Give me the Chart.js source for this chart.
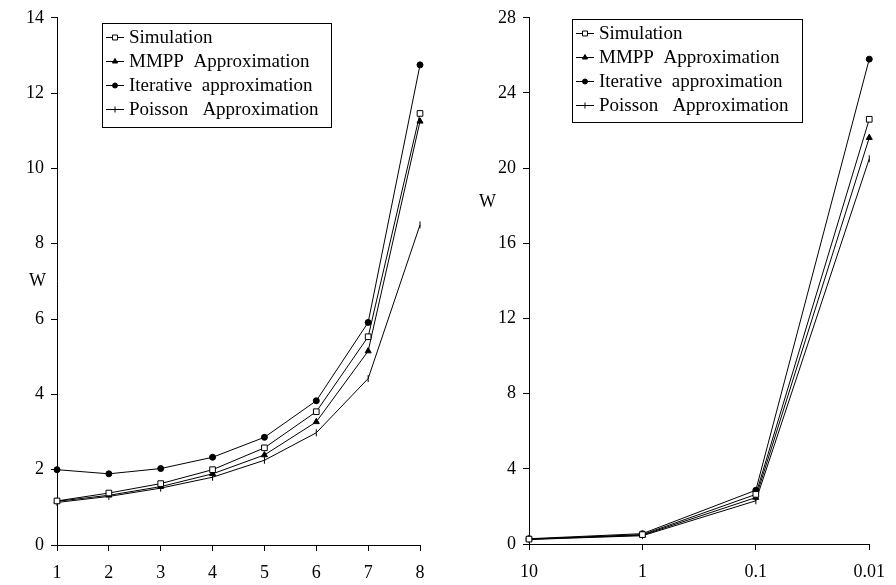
<!DOCTYPE html>
<html>
<head>
<meta charset="utf-8">
<script src="https://cdn.jsdelivr.net/npm/chart.js@4.4.0/dist/chart.umd.min.js"></script>
<style>
  html, body { margin: 0; padding: 0; background: #fff; }
  #wrapA { position: absolute; left: 0; top: 0; width: 440px; height: 585px; }
  #wrapB { position: absolute; left: 450px; top: 0; width: 446px; height: 585px; }
</style>
</head>
<body>
<div id="wrapA"><canvas id="chartA"></canvas></div>
<div id="wrapB"><canvas id="chartB"></canvas></div>
<script>
// left chart
const labelsA = ['1', '2', '3', '4', '5', '6', '7', '8'];
const simA = [1.17, 1.38, 1.63, 2.0, 2.58, 3.54, 5.53, 11.46];
const mmppA = [1.16, 1.32, 1.55, 1.89, 2.39, 3.27, 5.15, 11.25];
const iterA = [2.0, 1.89, 2.03, 2.33, 2.86, 3.83, 5.91, 12.75];
const poisA = [1.13, 1.29, 1.51, 1.8, 2.25, 2.98, 4.42, 8.5];
const ticksA = [0, 2, 4, 6, 8, 10, 12, 14];

// right chart
const labelsB = ['10', '1', '0.1', '0.01'];
const simB = [0.26, 0.5, 2.64, 22.6];
const mmppB = [0.25, 0.47, 2.47, 21.62];
const iterB = [0.28, 0.55, 2.86, 25.8];
const poisB = [0.24, 0.44, 2.3, 20.5];
const ticksB = [0, 4, 8, 12, 16, 20, 24, 28];

const seriesNames = ['Simulation', 'MMPP  Approximation', 'Iterative  approximation', 'Poisson   Approximation'];

const FONT = 'Liberation Serif, Times New Roman, serif';

const markers = [
  { pointStyle: 'rect', radius: 4, rotation: 0, fill: '#fff' },
  { pointStyle: 'triangle', radius: 3.5, rotation: 0, fill: '#000' },
  { pointStyle: 'circle', radius: 3, rotation: 0, fill: '#000' },
  { pointStyle: 'line', radius: 3.5, rotation: 90, fill: '#000' }
];

function makeDatasets(seriesList) {
  return seriesList.map((vals, i) => ({
    label: seriesNames[i],
    data: vals,
    borderColor: '#000',
    borderWidth: 1,
    backgroundColor: markers[i].fill,
    pointStyle: markers[i].pointStyle,
    pointRadius: markers[i].radius,
    pointRotation: markers[i].rotation,
    pointBorderWidth: 1,
    pointBorderColor: '#000',
    pointBackgroundColor: markers[i].fill,
    tension: 0
  }));
}

// boxed legend + horizontal "W" label
const extras = {
  id: 'extras',
  afterDraw(chart, args, opts) {
    const ctx = chart.ctx;
    ctx.save();
    // W label
    ctx.fillStyle = '#000';
    ctx.font = '18px ' + FONT;
    ctx.textAlign = 'left';
    ctx.textBaseline = 'middle';
    ctx.fillText('W', opts.wx, opts.wy);

    // legend box
    const lg = opts.legend;
    ctx.strokeStyle = '#000';
    ctx.lineWidth = 1;
    ctx.strokeRect(lg.x + 0.5, lg.y + 0.5, lg.w, lg.h);
    ctx.font = '19px ' + FONT;
    chart.data.datasets.forEach((ds, i) => {
      const y = lg.y + lg.first + i * lg.gap;
      ctx.beginPath();
      ctx.moveTo(lg.x + 4, y + 0.5);
      ctx.lineTo(lg.x + 22, y + 0.5);
      ctx.strokeStyle = '#000';
      ctx.stroke();
      ctx.fillStyle = markers[i].fill;
      ctx.strokeStyle = '#000';
      Chart.helpers.drawPoint(ctx, {
        pointStyle: markers[i].pointStyle,
        radius: markers[i].radius - 0.5,
        rotation: markers[i].rotation,
        borderWidth: 1
      }, lg.x + 13, y + 0.5);
      ctx.fillStyle = '#000';
      ctx.fillText(ds.label, lg.x + 27, y + 1);
    });
    ctx.restore();
  }
};

function makeOptions(ymax, ticks, yWidth, xHeight, pad, extraOpts) {
  return {
    responsive: true,
    maintainAspectRatio: false,
    animation: false,
    layout: { padding: pad },
    plugins: {
      legend: { display: false },
      tooltip: { enabled: false },
      extras: extraOpts
    },
    scales: {
      x: {
        type: 'category',
        offset: false,
        grid: { display: true, drawOnChartArea: false, drawTicks: true, tickLength: 6, color: '#000' },
        border: { display: true, color: '#000', width: 1 },
        ticks: { color: '#000', font: { family: FONT, size: 18 }, padding: 11, maxRotation: 0, autoSkip: false },
        afterFit(scale) { scale.height = xHeight; }
      },
      y: {
        min: 0,
        max: ymax,
        afterBuildTicks(scale) { scale.ticks = ticks.map(v => ({ value: v })); },
        grid: { display: true, drawOnChartArea: false, drawTicks: true, tickLength: 6, color: '#000' },
        border: { display: true, color: '#000', width: 1 },
        ticks: { color: '#000', font: { family: FONT, size: 18 }, padding: 7 },
        afterFit(scale) { scale.width = yWidth; }
      }
    }
  };
}

new Chart(document.getElementById('chartA'), {
  type: 'line',
  data: { labels: labelsA, datasets: makeDatasets([simA, mmppA, iterA, poisA]) },
  options: makeOptions(14, ticksA, 57, 40, { top: 15, right: 20, left: 0, bottom: 0 }, {
    wx: 29, wy: 281,
    legend: { x: 102, y: 23, w: 229, h: 104, first: 14, gap: 24 }
  }),
  plugins: [extras]
});

new Chart(document.getElementById('chartB'), {
  type: 'line',
  data: { labels: labelsB, datasets: makeDatasets([simB, mmppB, iterB, poisB]) },
  options: makeOptions(28, ticksB, 79, 41, { top: 10, right: 18, left: 0, bottom: 0 }, {
    wx: 29, wy: 202,
    legend: { x: 122, y: 19, w: 230, h: 103, first: 14, gap: 24 }
  }),
  plugins: [extras]
});
</script>
</body>
</html>
